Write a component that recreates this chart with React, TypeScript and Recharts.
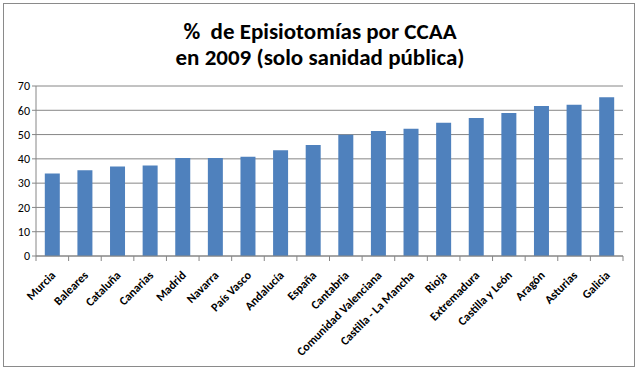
import React from "react";
import { BarChart, Bar, XAxis, YAxis, CartesianGrid } from "recharts";

const categories = [
  "Murcia", "Baleares", "Cataluña", "Canarias", "Madrid", "Navarra", "País Vasco",
  "Andalucía", "España", "Cantabria", "Comunidad Valenciana", "Castilla - La Mancha",
  "Rioja", "Extremadura", "Castilla y León", "Aragón", "Asturias", "Galicia",
];
const values = [34, 35.3, 36.9, 37.3, 40.4, 40.4, 40.9, 43.5, 45.7, 49.9, 51.5, 52.4, 54.9, 56.8, 58.9, 61.8, 62.3, 65.4];
const yTicks = [0, 10, 20, 30, 40, 50, 60, 70];
const titleLines = ["%  de Episiotomías por CCAA", "en 2009 (solo sanidad pública)"];

const data = categories.map((c, i) => ({ name: c, value: values[i] }));

const W = 640;
const H = 371;
const M = { top: 86, right: 17, left: 0, bottom: 0 };
const Y_W = 36;
const X_H = 115;
const band = (W - M.left - M.right - Y_W) / categories.length;
const FONT = "Carlito, Calibri, 'Open Sans', 'Noto Sans', sans-serif";

const XTick = (props: any) => {
  const { x, y, payload, index } = props;
  const isLast = index === categories.length - 1;
  const tx = x + 4;
  const ty = y + 12;
  return (
    <g>
      <line x1={x - band / 2} x2={x - band / 2} y1={y - 8} y2={y - 3} stroke="#868686" />
      {isLast && <line x1={x + band / 2} x2={x + band / 2} y1={y - 8} y2={y - 3} stroke="#868686" />}
      <text
        x={tx}
        y={ty}
        transform={`rotate(-45 ${tx} ${ty})`}
        textAnchor="end"
        fontSize={12}
        fontWeight="bold"
        fontFamily={FONT}
        fill="#000"
      >
        {payload.value}
      </text>
    </g>
  );
};

export default function App() {
  return (
    <div style={{ position: "absolute", left: 0, top: 0, width: W, height: H, background: "#fff" }}>
      <div
        style={{
          position: "absolute", left: 3, top: 3, width: 632, height: 364,
          border: "1px solid #8a8a8a", boxSizing: "border-box",
        }}
      />
      <div
        style={{
          position: "absolute", left: 0, top: 18, width: W, textAlign: "center",
          fontFamily: FONT, fontWeight: "bold", fontSize: 23, lineHeight: "26px", color: "#000",
        }}
      >
        {titleLines.map((l) => (
          <div key={l} style={{ whiteSpace: "pre" }}>{l}</div>
        ))}
      </div>
      <div style={{ position: "absolute", left: 0, top: 0 }}>
        <BarChart width={W} height={H} data={data} margin={M} barCategoryGap="27%">
          <CartesianGrid vertical={false} stroke="#868686" strokeWidth={1} />
          <XAxis
            dataKey="name"
            interval={0}
            height={X_H}
            tickLine={false}
            stroke="#868686"
            tick={<XTick />}
          />
          <YAxis
            width={Y_W}
            domain={[0, 70]}
            ticks={yTicks}
            interval={0}
            stroke="#868686"
            tickSize={4}
            tick={{ fill: "#000", fontSize: 12, fontFamily: FONT }}
          />
          <Bar dataKey="value" fill="#4F81BD" isAnimationActive={false} />
        </BarChart>
      </div>
    </div>
  );
}
